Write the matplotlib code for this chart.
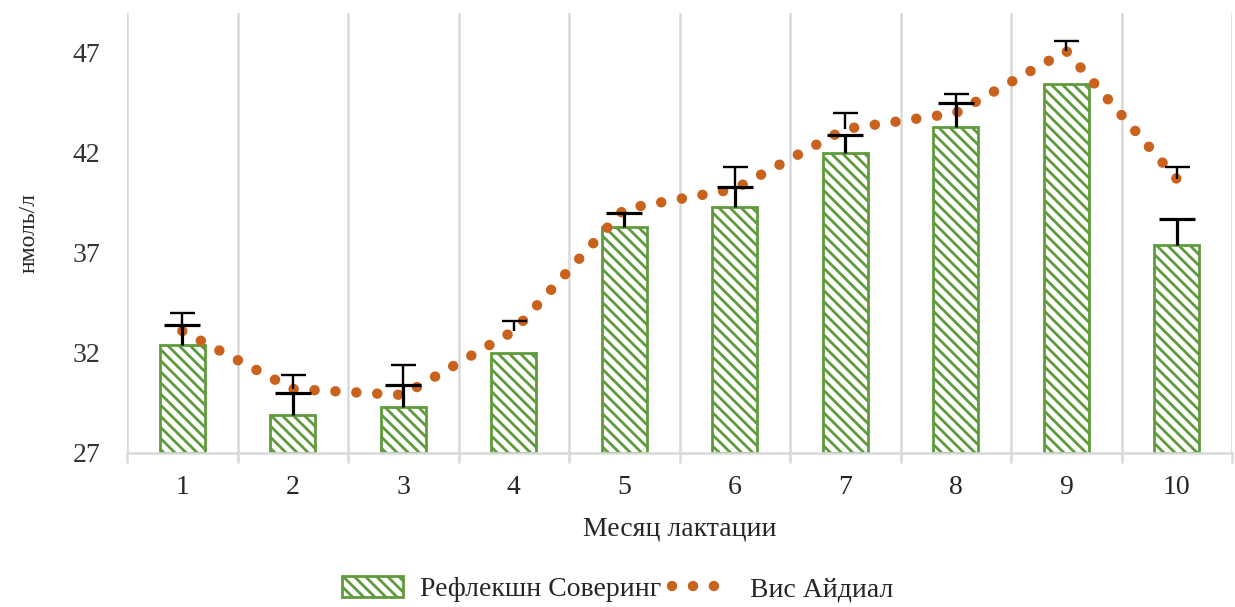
import numpy as np
import matplotlib
matplotlib.use('Agg')
import matplotlib.pyplot as plt
from matplotlib.patches import Patch
from matplotlib.lines import Line2D

months = [1, 2, 3, 4, 5, 6, 7, 8, 9, 10]
reflection = [32.4, 28.9, 29.3, 32.0, 38.3, 39.3, 42.0, 43.3, 45.45, 37.4]
reflection_err = [1.0, 1.1, 1.1, 0.0, 0.7, 1.0, 0.9, 1.2, 0.0, 1.3]
ideal = [33.1, 30.2, 29.9, 33.1, 39.2, 40.2, 43.2, 44.0, 47.1, 40.7]
ideal_err = [0.9, 0.7, 1.5, 0.5, 0.0, 1.1, 0.8, 0.95, 0.5, 0.6]
yticks = [27, 32, 37, 42, 47]

GREEN = '#5f9a3c'
ORANGE = '#c9621d'
GRID = '#d9d9d9'
TXT = '#262626'
DOTS = (0, (0.01, 2.0))

plt.rcParams['font.family'] = ['Liberation Serif', 'DejaVu Serif']
plt.rcParams['hatch.linewidth'] = 2.0


def plus_errorbar(ax, xs, ys, errs, lw, cap):
    # only the upper half of the error bar, like the Excel "plus" style
    xs, ys, errs = np.asarray(xs), np.asarray(ys), np.asarray(errs)
    m = errs > 0
    eb = ax.errorbar(xs[m], ys[m], yerr=[np.zeros(m.sum()), errs[m]], fmt='none',
                     ecolor='black', elinewidth=lw, capsize=cap, capthick=lw, zorder=5)
    eb[1][0].set_visible(False)
    return eb


fig = plt.figure(figsize=(12.35, 6.07), dpi=100)
ax = fig.add_axes([127 / 1235, 1 - 453 / 607, (1232 - 127) / 1235, (453 - 13) / 607])

x = np.array(months)
ax.bar(x, np.array(reflection) - 27, bottom=27, width=0.41, facecolor='white',
       edgecolor=GREEN, hatch='\\\\\\', linewidth=2.0, zorder=2)
plus_errorbar(ax, x, reflection, reflection_err, 2.3, 13)

ax.plot(x, ideal, color=ORANGE, linewidth=7.5, linestyle=DOTS,
        dash_capstyle='round', zorder=4)
plus_errorbar(ax, x, ideal, ideal_err, 1.7, 9)

ax.set_xlim(0.5, 10.5)
ax.set_ylim(27, 49)
ax.set_yticks(yticks)
ax.set_xticks(months)
ax.set_xticks(np.arange(0.5, 11, 1), minor=True)
ax.grid(axis='x', which='minor', color=GRID, linewidth=1.8, zorder=0)
ax.tick_params(axis='x', which='major', length=0, pad=16, labelsize=20, labelcolor=TXT)
ax.tick_params(axis='x', which='minor', length=7, width=1.8, color=GRID)
ax.tick_params(axis='y', length=0, pad=19, labelsize=20, labelcolor='#333333')
for s in ['top', 'right', 'left']:
    ax.spines[s].set_visible(False)
ax.spines['bottom'].set_color(GRID)
ax.spines['bottom'].set_linewidth(1.8)

ax.set_xlabel('Месяц лактации', fontsize=20, color=TXT, labelpad=12)
fig.text(29 / 1235, 1 - 233 / 607, 'нмоль/л', rotation=90, ha='center', va='center',
         fontsize=17, color=TXT)

handles = [
    Patch(facecolor='white', edgecolor=GREEN, hatch='\\\\\\', linewidth=2.0),
    Line2D([0], [0], color=ORANGE, linewidth=7.5, linestyle=DOTS, dash_capstyle='round'),
]
fig.legend(handles, ['Рефлекшн Соверинг', 'Вис Айдиал'], loc='center',
           bbox_to_anchor=(0.5, 1 - 589 / 607), ncol=2, frameon=False,
           fontsize=20, handlelength=2.2, handleheight=0.8, columnspacing=0.4,
           handletextpad=0.6, labelcolor=TXT)

fig.savefig('out.png', dpi=100)
